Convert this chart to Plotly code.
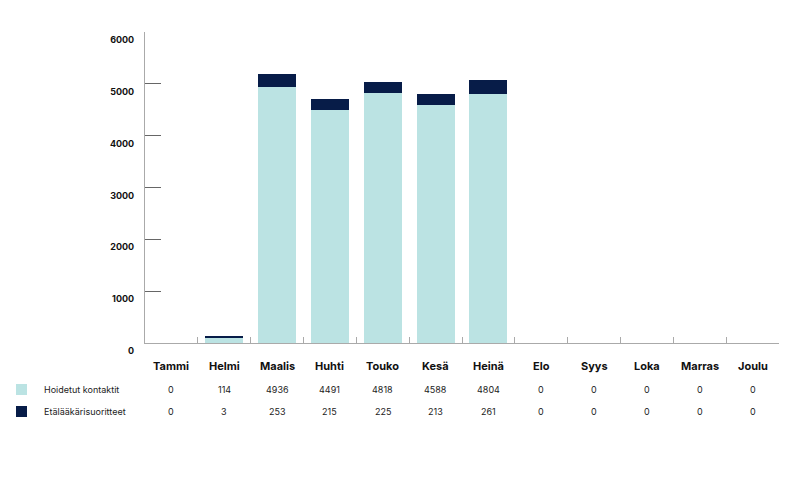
import plotly.graph_objects as go

months = ["Tammi", "Helmi", "Maalis", "Huhti", "Touko", "Kesä", "Heinä",
          "Elo", "Syys", "Loka", "Marras", "Joulu"]
hoidetut = [0, 114, 4936, 4491, 4818, 4588, 4804, 0, 0, 0, 0, 0]
etalaakari = [0, 3, 253, 215, 225, 213, 261, 0, 0, 0, 0, 0]
series_names = ["Hoidetut kontaktit", "Etälääkärisuoritteet"]
y_ticks = [0, 1000, 2000, 3000, 4000, 5000, 6000]

light = "#bbe3e3"
dark = "#071c48"
font = "Inter, Lato, sans-serif"

# page body has an 8px margin, so figure coords = screen coords - 8
OFF = 8
W, H = 795, 477
L, R, T, B = 145 - OFF, 24, 32 - OFF, 142
plot_h = H - T - B
plot_w = W - L - R


def py(pix):
    # screen pixel row -> paper y
    return (H - B - (pix - OFF)) / plot_h


def px_(pix):
    return (pix - OFF - L) / plot_w


fig = go.Figure()
fig.add_trace(go.Bar(x=months, y=hoidetut, name=series_names[0],
                     marker=dict(color=light, line=dict(width=0))))
fig.add_trace(go.Bar(x=months, y=etalaakari, name=series_names[1],
                     marker=dict(color=dark, line=dict(width=0))))

fig.update_layout(
    barmode="stack", bargap=0.28,
    width=W, height=H,
    margin=dict(l=L, r=R, t=T, b=B),
    plot_bgcolor="white", paper_bgcolor="white",
    showlegend=False,
    font=dict(family=font, color="#111"),
)
fig.update_xaxes(showticklabels=False, showline=True, linecolor="#aaa", linewidth=1,
                 ticks="inside", tickson="boundaries", ticklen=6, tickcolor="#aaa",
                 showgrid=False, range=[-0.5, 11.5])
fig.update_yaxes(range=[0, 6000], tickvals=y_ticks, showline=True, linecolor="#aaa",
                 linewidth=1, ticks="inside", ticklen=16, tickcolor="#666",
                 showgrid=False, zeroline=False, ticklabelstandoff=8,
                 ticklabelshift=8,
                 tickfont=dict(family=font, size=9, color="#111", weight="bold"))

ann = []
for i, m in enumerate(months):
    ann.append(dict(x=m, y=py(366), xref="x", yref="paper", text="<b>%s</b>" % m,
                    yanchor="middle", showarrow=False,
                    font=dict(size=11, family=font, color="#111")))
    ann.append(dict(x=m, y=py(389), xref="x", yref="paper", text=str(hoidetut[i]),
                    yanchor="middle", showarrow=False,
                    font=dict(size=9, family=font, color="#222")))
    ann.append(dict(x=m, y=py(411), xref="x", yref="paper", text=str(etalaakari[i]),
                    yanchor="middle", showarrow=False,
                    font=dict(size=9, family=font, color="#222")))

for name, row in zip(series_names, [389, 411]):
    ann.append(dict(x=px_(42), y=py(row), xref="paper", yref="paper", text=name,
                    xanchor="left", yanchor="middle", showarrow=False,
                    font=dict(size=9, family=font, color="#222")))

shapes = []
for col, row in zip([light, dark], [389, 411]):
    shapes.append(dict(type="rect", xref="paper", yref="paper",
                       x0=px_(16), x1=px_(27), y0=py(row + 6), y1=py(row - 5),
                       fillcolor=col, line=dict(width=0)))

fig.update_layout(annotations=ann, shapes=shapes)
fig.write_html("out.html")
